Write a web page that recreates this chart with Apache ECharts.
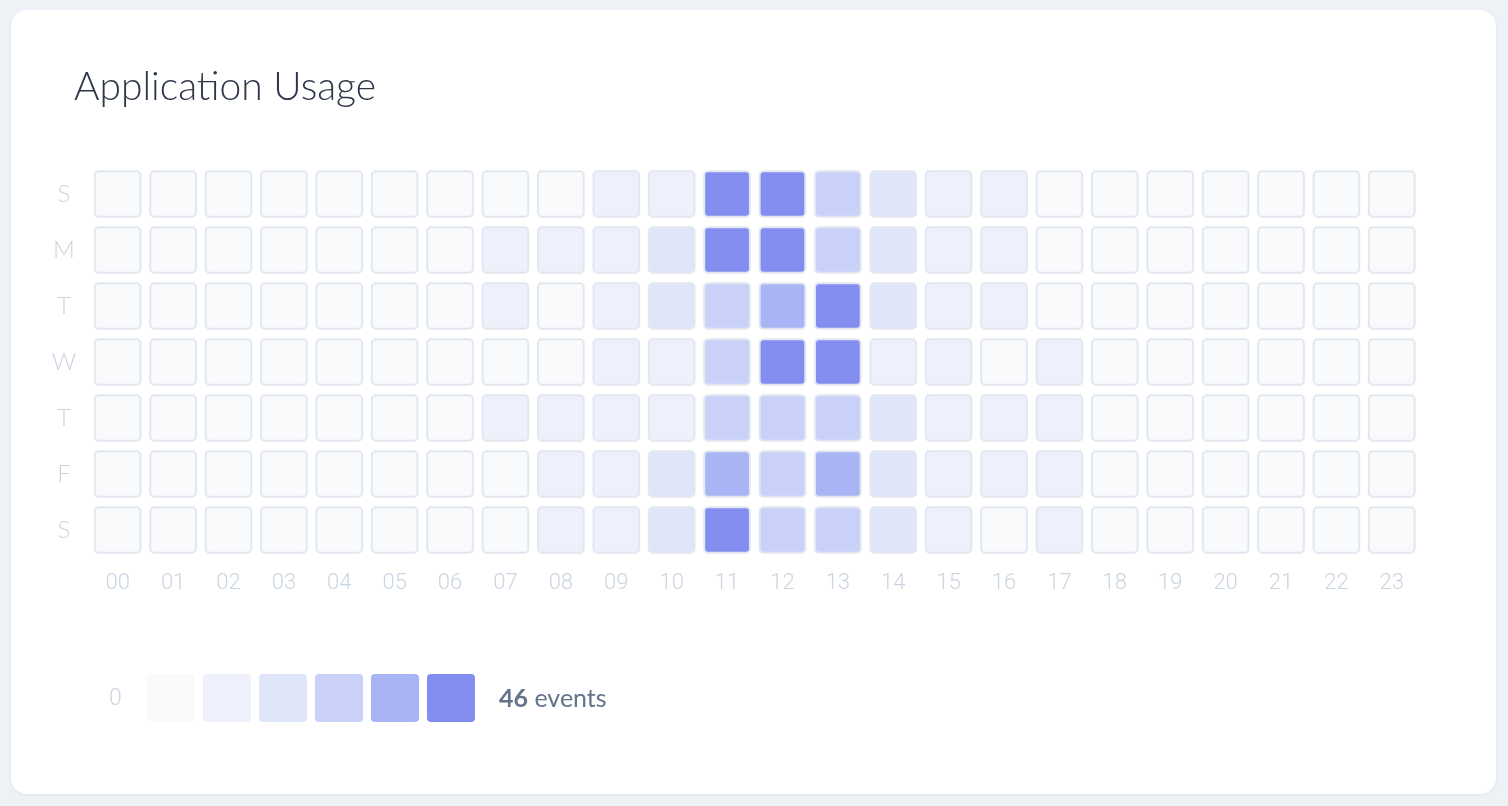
<!DOCTYPE html>
<html>
<head>
<meta charset="utf-8">
<script src="https://cdn.jsdelivr.net/npm/echarts@6/dist/echarts.min.js"></script>
<style>
  html, body { margin: 0; padding: 0; width: 1508px; height: 806px; background: #eef2f7; overflow: hidden; }
  #card { position: absolute; left: 11px; top: 10px; width: 1485px; height: 784px; background: #ffffff; border-radius: 16px; box-shadow: 0 1px 3px rgba(148,163,184,0.15); }
  #chart { width: 1485px; height: 784px; }
</style>
</head>
<body>
<div id="card"><div id="chart"></div></div>
<script>
// Hours of the day (x axis tick labels)
const hours = ['00','01','02','03','04','05','06','07','08','09','10','11','12','13','14','15','16','17','18','19','20','21','22','23'];
// Days of the week, top to bottom (y axis tick labels)
const days = ['S','M','T','W','T','F','S'];

// Estimated event counts per hour for each day (read from cell colour levels)
const sunday    = [0,0,0,0,0,0,0,0,1,5,6,42,40,20,12,6,5,1,0,0,0,0,0,0];
const monday    = [0,0,0,0,0,0,0,4,5,6,11,46,41,21,12,6,5,1,0,0,0,0,0,0];
const tuesday   = [0,0,0,0,0,0,0,4,1,6,12,20,31,43,11,6,5,1,0,0,0,0,0,0];
const wednesday = [0,0,0,0,0,0,0,1,1,5,6,21,44,39,7,6,1,5,0,0,0,0,0,0];
const thursday  = [0,0,0,0,0,0,0,5,6,6,7,22,21,19,12,6,5,5,0,0,0,0,0,0];
const friday    = [0,0,0,0,0,0,0,1,5,6,12,30,22,32,12,6,5,5,0,0,0,0,0,0];
const saturday  = [0,0,0,0,0,0,0,1,5,6,11,40,21,20,12,6,1,5,0,0,0,0,0,0];

const levelColors = ['#f8fafc', '#eef0fc', '#e0e6fa', '#c9d1f9', '#a9b4f4', '#838df0'];
const minEvents = 0;
const maxEvents = 46;

const rows = [sunday, monday, tuesday, wednesday, thursday, friday, saturday];
const cells = [];
rows.forEach((row, d) => row.forEach((v, h) => cells.push([h, d, v])));

const chart = echarts.init(document.getElementById('chart'), null, { renderer: 'canvas' });
chart.setOption({
  animation: false,
  title: {
    text: 'Application Usage',
    left: 58,
    top: 53,
    textStyle: { fontFamily: 'Lato', fontWeight: 300, fontSize: 39, color: '#2d3748' }
  },
  grid: { left: 79, top: 156, width: 1329.5, height: 392 },
  xAxis: {
    type: 'category',
    data: hours,
    axisLine: { show: false },
    axisTick: { show: false },
    splitLine: { show: false },
    axisLabel: { color: '#cbd5e1', fontFamily: 'Roboto', fontWeight: 300, fontSize: 22, margin: 14 }
  },
  yAxis: {
    type: 'category',
    data: days,
    inverse: true,
    axisLine: { show: false },
    axisTick: { show: false },
    splitLine: { show: false },
    axisLabel: { color: '#cbd5e1', fontFamily: 'Lato', fontWeight: 300, fontSize: 24, margin: 26, align: 'center' }
  },
  visualMap: {
    type: 'piecewise',
    orient: 'horizontal',
    left: 136,
    top: 664,
    padding: 0,
    itemWidth: 48,
    itemHeight: 48,
    itemGap: 8,
    showLabel: false,
    itemSymbol: 'path://M4,0 H44 A4,4 0 0 1 48,4 V44 A4,4 0 0 1 44,48 H4 A4,4 0 0 1 0,44 V4 A4,4 0 0 1 4,0 Z',
    pieces: [
      { min: 0, max: 2, color: levelColors[0] },
      { min: 3, max: 8, color: levelColors[1] },
      { min: 9, max: 16, color: levelColors[2] },
      { min: 17, max: 26, color: levelColors[3] },
      { min: 27, max: 36, color: levelColors[4] },
      { min: 37, max: maxEvents, color: levelColors[5] }
    ],
    dimension: 2,
    hoverLink: false,
    selectedMode: false
  },
  graphic: [
    {
      type: 'text',
      left: 98,
      top: 678,
      style: { text: String(minEvents), fill: '#cbd5e1', font: '300 23px Roboto' }
    },
    {
      type: 'text',
      left: 488,
      top: 676,
      style: {
        text: '{b|' + maxEvents + '} {e|events}',
        rich: {
          b: { fill: '#64748b', fontFamily: 'Lato', fontWeight: 700, fontSize: 25 },
          e: { fill: '#64748b', fontFamily: 'Lato', fontWeight: 400, fontSize: 25 }
        },
        fill: '#64748b', font: '400 25px Lato'
      }
    }
  ],
  series: [{
    type: 'custom',
    data: cells,
    encode: { x: 0, y: 1 },
    renderItem: function (params, api) {
      const c = api.coord([api.value(0), api.value(1)]);
      const s = api.size([1, 1]);
      const w = s[0] - 9.7, h = s[1] - 10.7;
      return {
        type: 'rect',
        shape: { x: c[0] - w / 2, y: c[1] - h / 2, width: w, height: h, r: 4 },
        style: { fill: api.visual('color'), stroke: '#e2e8f0', lineWidth: 2 }
      };
    }
  }]
});
</script>
</body>
</html>
